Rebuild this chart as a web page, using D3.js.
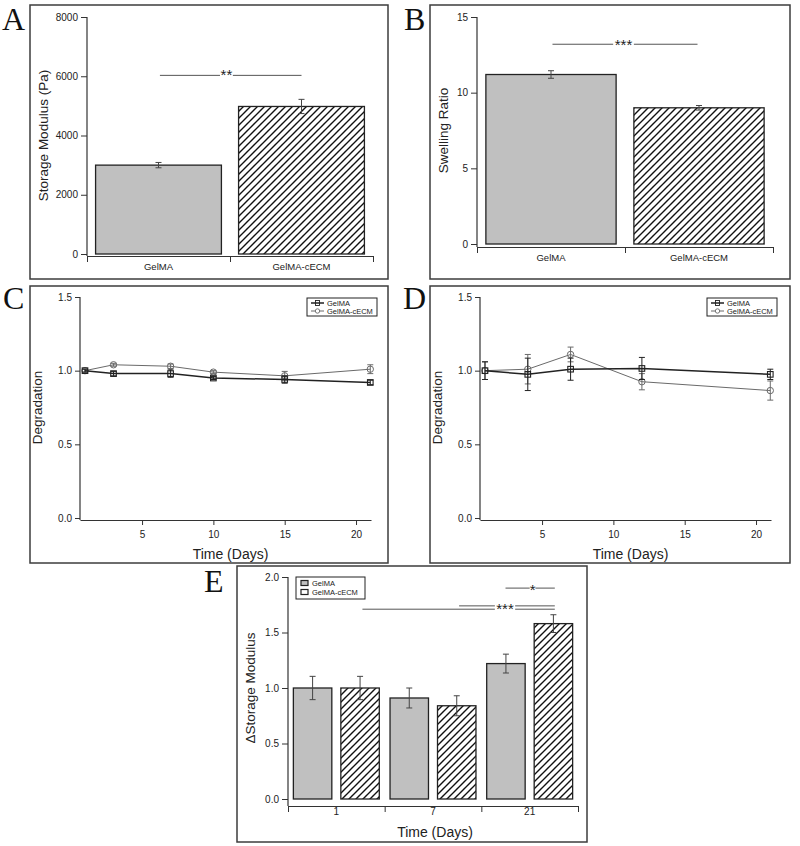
<!DOCTYPE html>
<html><head><meta charset="utf-8">
<script src="https://cdn.jsdelivr.net/npm/d3@7"></script>
<style>
body{margin:0;background:#fff}
svg{display:block}
text{font-family:"Liberation Sans",Arial,sans-serif;fill:#222}
</style>
</head><body>
<svg id="c" width="800" height="846"></svg>
<script>
// ---------------- DATA ----------------
const categories = ["GelMA", "GelMA-cECM"];
const storageMean = [3000, 4980];
const storageErr = [90, 240];
const swellMean = [11.2, 9.0];
const swellErr = [0.25, 0.15];

const degCDays = [1, 3, 7, 10, 15, 21];
const degCGel = [1.0, 0.98, 0.98, 0.95, 0.94, 0.92];
const degCGelErr = [0.01, 0.015, 0.025, 0.01, 0.025, 0.015];
const degCEcm = [1.0, 1.04, 1.03, 0.99, 0.965, 1.01];
const degCEcmErr = [0.01, 0.01, 0.015, 0.01, 0.03, 0.03];

const degDDays = [1, 4, 7, 12, 21];
const degDGel = [1.0, 0.975, 1.01, 1.015, 0.975];
const degDGelErr = [0.06, 0.11, 0.075, 0.075, 0.035];
const degDEcm = [1.0, 1.01, 1.11, 0.925, 0.865];
const degDEcmErr = [0.06, 0.10, 0.05, 0.055, 0.065];

const timeLabels = ["1", "7", "21"];
const eGel = [1.0, 0.91, 1.22];
const eGelErr = [0.105, 0.09, 0.085];
const eEcm = [1.0, 0.84, 1.58];
const eEcmErr = [0.105, 0.09, 0.08];

const storageTicks = [0, 2000, 4000, 6000, 8000];
const swellTicks = [0, 5, 10, 15];
const degTicks = [0, 0.5, 1.0, 1.5];
const dayTicks = [5, 10, 15, 20];
const eTicks = [0, 0.5, 1.0, 1.5, 2.0];

// significance annotations (x in category-index units, y in data units)
const sigA = [{y: 6030, segs: [[0.51, 0.93], [1.02, 1.50]], label: "**", lx: 0.975, dy: 4.5}];
const sigB = [{y: 13.2, segs: [[0.51, 0.92], [1.06, 1.49]], label: "***", lx: 0.99, dy: 5.5}];
const sigE = [
  {y: 1.90, segs: [[2.25, 2.50], [2.56, 2.76]], label: "*", lx: 2.53, dy: 7},
  {y: 1.74, segs: [[1.77, 2.14], [2.35, 2.76]], label: "***", lx: 2.245, dy: 8},
  {y: 1.71, segs: [[0.77, 2.14], [2.35, 2.76]], label: "", lx: 0}
];

// ---------------- DRAWING ----------------
const svg = d3.select("#c");
const defs = svg.append("defs");
const pat = defs.append("pattern").attr("id", "hatch").attr("patternUnits", "userSpaceOnUse")
  .attr("width", 7).attr("height", 7);
pat.append("rect").attr("width", 7).attr("height", 7).attr("fill", "#fff");
pat.append("path").attr("d", "M-1,1 L1,-1 M0,7 L7,0 M6,8 L8,6")
  .attr("stroke", "#111").attr("stroke-width", 1.4);

const GRAY = "#c0c0c0";
const AX = "#333";

function styleAxis(sel, fs) {
  sel.selectAll("line").attr("stroke", AX).attr("stroke-width", 1);
  sel.selectAll("path").attr("stroke", AX).attr("stroke-width", 1.2);
  sel.selectAll("text").attr("font-family", '"Liberation Sans",Arial,sans-serif')
    .attr("font-size", fs).attr("fill", "#222");
  sel.attr("font-family", null).attr("font-size", null);
}

function box(x0, y0, x1, y1, letter, lx, ly) {
  svg.append("rect").attr("x", x0).attr("y", y0).attr("width", x1 - x0).attr("height", y1 - y0)
    .attr("fill", "none").attr("stroke", "#3c3c3c").attr("stroke-width", 1.5);
  svg.append("text").attr("x", lx).attr("y", ly).text(letter)
    .attr("font-family", '"Liberation Serif","Times New Roman",serif')
    .style("font-family", '"Liberation Serif","Times New Roman",serif')
    .attr("font-size", 32).style("fill", "#111");
}

function errBar(g, cx, yTop, yBot, color, cap) {
  g.append("line").attr("x1", cx).attr("x2", cx).attr("y1", yTop).attr("y2", yBot)
    .attr("stroke", color).attr("stroke-width", 1);
  [yTop, yBot].forEach(v => g.append("line").attr("x1", cx - cap).attr("x2", cx + cap)
    .attr("y1", v).attr("y2", v).attr("stroke", color).attr("stroke-width", 1));
}

function yAxis(g, y, x, ticks, fmt, bottomY, label, labelX, size) {
  const a = g.append("g").attr("transform", `translate(${x},0)`)
    .call(d3.axisLeft(y).tickValues(ticks).tickSize(size || 6).tickPadding(3).tickFormat(fmt));
  a.select(".domain").remove();
  styleAxis(a, 10);
  g.append("line").attr("x1", x).attr("x2", x).attr("y1", y(ticks[ticks.length - 1]))
    .attr("y2", bottomY).attr("stroke", AX).attr("stroke-width", 1.2);
  const ym = (y.range()[0] + y.range()[1]) / 2;
  g.append("text").attr("transform", `translate(${labelX},${ym}) rotate(-90)`)
    .attr("text-anchor", "middle").attr("dominant-baseline", "central")
    .attr("font-size", 13.5).text(label);
}

function sig(g, xi, y, list) {
  list.forEach(s => {
    s.segs.forEach(sg => g.append("line").attr("x1", xi(sg[0])).attr("x2", xi(sg[1]))
      .attr("y1", y(s.y)).attr("y2", y(s.y)).attr("stroke", "#555").attr("stroke-width", 1));
    if (s.label) g.append("text").attr("x", xi(s.lx)).attr("y", y(s.y) + (s.dy || 7))
      .attr("text-anchor", "middle").attr("font-size", 15).text(s.label);
  });
}

function barPanel(o) {
  const g = svg.append("g");
  const y = d3.scaleLinear().domain([0, o.yTicks[o.yTicks.length - 1]]).range([o.y0, o.yTop]);
  const xi = d3.scaleLinear().domain([0, categories.length]).range(o.xRange);
  const xb = d3.scaleBand().domain(categories).range(o.xRange).paddingInner(0.12).paddingOuter(0.06);
  const axY = o.y0 + o.xOff;
  categories.forEach((c, i) => {
    g.append("rect").attr("x", xb(c)).attr("y", y(o.means[i])).attr("width", xb.bandwidth())
      .attr("height", y(0) - y(o.means[i]))
      .attr("fill", i === 0 ? GRAY : "url(#hatch)").attr("stroke", "#222").attr("stroke-width", 1.3);
    errBar(g, xb(c) + xb.bandwidth() / 2, y(o.means[i] + o.errs[i]), y(o.means[i] - o.errs[i]), "#444", 3);
  });
  yAxis(g, y, o.xRange[0], o.yTicks, d3.format("d"), axY, o.yLabel, o.labelX);
  const xa = g.append("g").attr("transform", `translate(0,${axY})`)
    .call(d3.axisBottom(xi).tickValues(d3.range(categories.length + 1)).tickFormat("").tickSize(6).tickSizeOuter(0));
  styleAxis(xa, 10);
  categories.forEach(c => g.append("text").attr("x", xb(c) + xb.bandwidth() / 2).attr("y", o.catY)
    .attr("text-anchor", "middle").attr("font-size", 9.5).text(c));
  sig(g, xi, y, o.sig);
}

function linePanel(o) {
  const g = svg.append("g");
  const y = d3.scaleLinear().domain([0, 1.5]).range([o.y0, o.yTop]);
  const x = d3.scaleLinear().domain([0.65, 21.05]).range(o.xRange);
  const axY = o.y0 + 2;
  yAxis(g, y, o.xRange[0], degTicks, d3.format(".1f"), axY, "Degradation", o.labelX, 5);
  const xa = g.append("g").attr("transform", `translate(0,${axY})`)
    .call(d3.axisBottom(x).tickValues(dayTicks).tickSize(5).tickPadding(6).tickSizeOuter(0));
  styleAxis(xa, 10);
  g.append("text").attr("x", (o.xRange[0] + o.xRange[1]) / 2 + 5).attr("y", o.titleY)
    .attr("text-anchor", "middle").attr("font-size", 14).text("Time (Days)");
  const series = [
    {vals: o.ecm, errs: o.ecmErr, color: "#6a6a6a", w: 1, shape: "circle"},
    {vals: o.gel, errs: o.gelErr, color: "#222", w: 1.5, shape: "square"}
  ];
  series.forEach(s => {
    const pts = o.days.map((d, i) => [x(d), y(s.vals[i])]);
    g.append("path").attr("d", d3.line()(pts)).attr("fill", "none")
      .attr("stroke", s.color).attr("stroke-width", s.w);
    o.days.forEach((d, i) => {
      errBar(g, x(d), y(s.vals[i] + s.errs[i]), y(s.vals[i] - s.errs[i]), s.color, 3);
      if (s.shape === "circle") g.append("circle").attr("cx", x(d)).attr("cy", y(s.vals[i])).attr("r", 3.2)
        .attr("fill", "none").attr("stroke", s.color).attr("stroke-width", 1);
      else g.append("rect").attr("x", x(d) - 2.8).attr("y", y(s.vals[i]) - 2.8).attr("width", 5.6).attr("height", 5.6)
        .attr("fill", "none").attr("stroke", s.color).attr("stroke-width", 1.1);
    });
  });
  const lx = o.legX, ly = o.legY;
  g.append("rect").attr("x", lx).attr("y", ly).attr("width", 70).attr("height", 18)
    .attr("fill", "#fff").attr("stroke", "#222").attr("stroke-width", 1);
  [[categories[0], "#222", 1.5, "square", 5], [categories[1], "#6a6a6a", 1, "circle", 13]].forEach(r => {
    const yy = ly + r[4];
    g.append("line").attr("x1", lx + 4).attr("x2", lx + 17).attr("y1", yy).attr("y2", yy)
      .attr("stroke", r[1]).attr("stroke-width", r[2]);
    if (r[3] === "circle") g.append("circle").attr("cx", lx + 10.5).attr("cy", yy).attr("r", 2.2)
      .attr("fill", "#fff").attr("stroke", r[1]).attr("stroke-width", 0.9);
    else g.append("rect").attr("x", lx + 8.5).attr("y", yy - 2.5).attr("width", 4).attr("height", 5)
      .attr("fill", "none").attr("stroke", r[1]).attr("stroke-width", 0.9);
    g.append("text").attr("x", lx + 20).attr("y", yy + 2.8).attr("font-size", 7.5).text(r[0]);
  });
}

box(30, 5, 388, 279, "A", 2, 30);
box(430, 5, 790, 279, "B", 404, 30);
box(30, 286, 388, 563, "C", 3, 309);
box(430, 286, 790, 563, "D", 403, 309);
box(237, 566, 587, 842, "E", 204, 592);

barPanel({means: storageMean, errs: storageErr, yTicks: storageTicks, y0: 254, yTop: 17,
  xRange: [87, 373], xOff: 2, yLabel: "Storage Modulus (Pa)", labelX: 43, catY: 270, sig: sigA});
barPanel({means: swellMean, errs: swellErr, yTicks: swellTicks, y0: 244, yTop: 17,
  xRange: [477, 773], xOff: 3, yLabel: "Swelling Ratio", labelX: 443, catY: 261, sig: sigB});

linePanel({days: degCDays, gel: degCGel, gelErr: degCGelErr, ecm: degCEcm, ecmErr: degCEcmErr,
  y0: 518, yTop: 297, xRange: [80, 371], labelX: 37, titleY: 559, legX: 307, legY: 298});
linePanel({days: degDDays, gel: degDGel, gelErr: degDGelErr, ecm: degDEcm, ecmErr: degDEcmErr,
  y0: 518, yTop: 297, xRange: [480, 771], labelX: 437, titleY: 559, legX: 707, legY: 298});

(function () {
  const g = svg.append("g");
  const y = d3.scaleLinear().domain([0, 2]).range([799, 577]);
  const xg = d3.scaleBand().domain(timeLabels).range([288, 578]);
  const xs = d3.scaleBand().domain(categories).range([0, xg.bandwidth()]).paddingInner(0.19).paddingOuter(0.113);
  const xi = d3.scaleLinear().domain([0, timeLabels.length]).range([288, 578]);
  const axY = 806;
  timeLabels.forEach((t, i) => {
    [[eGel, eGelErr, GRAY], [eEcm, eEcmErr, "url(#hatch)"]].forEach((s, j) => {
      const bx = xg(t) + xs(categories[j]);
      g.append("rect").attr("x", bx).attr("y", y(s[0][i])).attr("width", xs.bandwidth())
        .attr("height", y(0) - y(s[0][i])).attr("fill", s[2]).attr("stroke", "#222").attr("stroke-width", 1.3);
      errBar(g, bx + xs.bandwidth() / 2, y(s[0][i] + s[1][i]), y(s[0][i] - s[1][i]), "#444", 3);
    });
  });
  yAxis(g, y, 288, eTicks, d3.format(".1f"), axY, "\u0394Storage Modulus", 250, 6);
  const xa = g.append("g").attr("transform", `translate(0,${axY})`)
    .call(d3.axisBottom(xi).tickValues(d3.range(timeLabels.length + 1)).tickFormat("").tickSize(6).tickSizeOuter(0));
  styleAxis(xa, 10);
  timeLabels.forEach(t => g.append("text").attr("x", xg(t) + xg.bandwidth() / 2).attr("y", 815)
    .attr("text-anchor", "middle").attr("font-size", 10).text(t));
  g.append("text").attr("x", 435).attr("y", 837).attr("text-anchor", "middle").attr("font-size", 14).text("Time (Days)");
  sig(g, xi, y, sigE);
  g.append("rect").attr("x", 296).attr("y", 577).attr("width", 69).attr("height", 22)
    .attr("fill", "#fff").attr("stroke", "#222").attr("stroke-width", 1);
  categories.forEach((c, j) => {
    const yy = 583 + j * 9;
    g.append("rect").attr("x", 301).attr("y", yy - 2.5).attr("width", 7).attr("height", 5)
      .attr("fill", j === 0 ? GRAY : "#fff").attr("stroke", "#222").attr("stroke-width", 1.2);
    g.append("text").attr("x", 312).attr("y", yy + 2.8).attr("font-size", 7.5).text(c);
  });
})();
</script>
</body></html>
